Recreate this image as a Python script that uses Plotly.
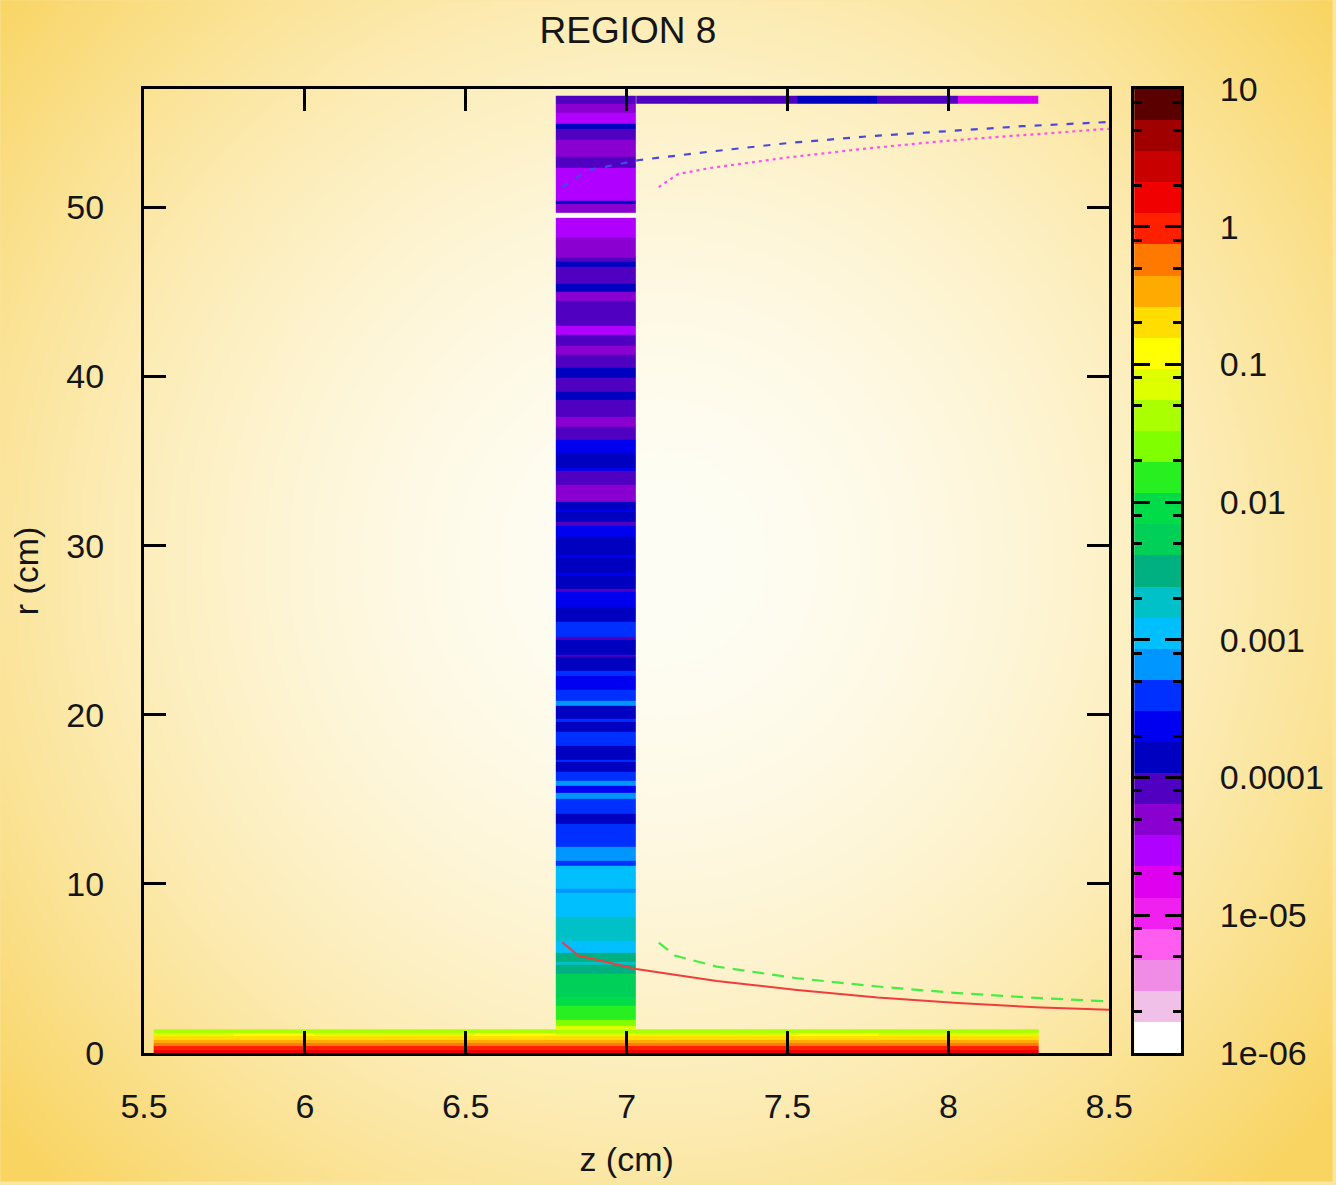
import base64, struct, zlib
import numpy as np
import plotly.graph_objects as go

# ---------------- data ----------------
# discrete palette, 31 bands spanning log10 value -6 .. 1 (bottom -> top)
palette = ["#FFFFFF", "#F0C0E8", "#F08CE6", "#FF5CF0", "#F020F0", "#E000F0", "#B000FF",
           "#8A00D0", "#5000C0", "#0000C0", "#0000F0", "#0030FF", "#0096FF", "#00BFFF",
           "#00C0C8", "#00B080", "#00D058", "#00DC48", "#28F020", "#80FF00", "#AAFF00",
           "#DDFF00", "#FFFF00", "#FFDD00", "#FFAA00", "#FF7800", "#FF2000", "#F00000",
           "#C80000", "#A00000", "#5A0000"]
cb_tickvals = [1e-6, 1e-5, 1e-4, 1e-3, 1e-2, 1e-1, 1, 10]
cb_ticktext = ["1e-06", "1e-05", "0.0001", "0.001", "0.01", "0.1", "1", "10"]
cb_minor = [2, 5, 8]

# z cell edges of the mesh (cm)
z_edges = [5.53, 5.78, 6.03, 6.28, 6.53, 6.78, 7.03, 7.28, 7.53, 7.78, 8.03, 8.28]

# bottom bar: r edges and values (rows bottom->top, one value per z cell)
bar_r_edges = [0.0, 0.2, 0.4, 0.6, 0.8, 1.0, 1.2, 1.4]
bar_vals = [
    [1.6, 1.6, 1.6, 1.6, 1.6, 1.6, 1.6, 1.6, 1.6, 1.6, 1.6],
    [0.95, 1.2, 0.95, 0.95, 1.2, 0.95, 0.95, 0.95, 1.2, 0.95, 0.95],
    [0.57, 0.57, 0.57, 0.57, 0.57, 0.57, 0.57, 0.57, 0.57, 0.57, 0.57],
    [0.3, 0.34, 0.3, 0.3, 0.34, 0.3, 0.3, 0.3, 0.34, 0.3, 0.3],
    [0.16, 0.2, 0.16, 0.16, 0.2, 0.16, 0.16, 0.16, 0.2, 0.16, 0.16],
    [0.09, 0.1, 0.09, 0.09, 0.1, 0.09, 0.09, 0.09, 0.1, 0.09, 0.09],
    [0.043, 0.05, 0.043, 0.043, 0.05, 0.043, 0.043, 0.043, 0.05, 0.043, 0.043],
]

# vertical column (z 6.78 .. 7.03): r edges and values
col_z_edges = [6.78, 7.03]
col_r_edges = [1.4, 1.6, 1.95, 2.8, 3.3, 4.7, 5.2, 5.4, 5.9, 6.66,
               8.08, 9.5, 9.7, 11.08, 11.38, 12.2, 13.56, 14.15, 15.03, 15.4,
               15.8, 16.1, 16.62, 17.2, 17.35, 18.15, 18.98, 19.6, 19.75, 20.51,
               20.81, 21.5, 22.3, 22.6, 23.4, 23.55, 24.46, 24.6, 25.5, 26.4,
               27.3, 27.45, 28.2, 28.4, 29.3, 29.45, 30.5, 31.2, 31.4, 32.0,
               32.15, 32.6, 33.6, 34.4, 34.6, 35.5, 36.25, 37.0, 37.6, 38.6,
               39.08, 39.91, 40.5, 41.3, 41.8, 42.44, 43.03, 44.5, 45.0, 45.5,
               46.5, 46.8, 47.04, 48.22, 49.39, 49.69, 50.22, 50.4, 52.34, 53.0,
               54.0, 54.64, 54.94, 55.6, 56.1, 56.6]
col_vals = [7.1e-2, 2.5e-2, 1.5e-2, 9e-3, 5.3e-3, 3.2e-3, 1.9e-3, 3.2e-3, 1.1e-3, 1.9e-3,
            1.1e-3, 6.7e-4, 1.1e-3, 4e-4, 6.7e-4, 4e-4, 1.4e-4, 4e-4, 6.7e-4, 2.4e-4,
            6.7e-4, 4e-4, 1.4e-4, 4e-4, 1.4e-4, 4e-4, 1.4e-4, 4e-4, 1.4e-4, 6.7e-4,
            4e-4, 2.4e-4, 4e-4, 1.4e-4, 8.3e-5, 1.4e-4, 8.3e-5, 4e-4, 1.4e-4, 2.4e-4,
            8.3e-5, 1.4e-4, 2.4e-4, 1.4e-4, 2.4e-4, 1.4e-4, 2.4e-4, 8.3e-5, 1.4e-4, 2.4e-4,
            1.4e-4, 4.9e-5, 8.3e-5, 2.4e-4, 1.4e-4, 2.4e-4, 8.3e-5, 4.9e-5, 8.3e-5, 1.4e-4,
            8.3e-5, 1.4e-4, 8.3e-5, 4.9e-5, 8.3e-5, 2.9e-5, 8.3e-5, 4.9e-5, 1.4e-4, 8.3e-5,
            1.4e-4, 8.3e-5, 4.9e-5, 2.9e-5, 1.3e-6, 4.9e-5, 1.4e-4, 2.9e-5, 8.3e-5, 4.9e-5,
            8.3e-5, 1.4e-4, 2.9e-5, 4.9e-5, 8.3e-5]

# top strip (r 56.1 .. 56.6)
strip_z_edges = [7.03, 7.28, 7.53, 7.78, 8.03, 8.28]
strip_r_edges = [56.1, 56.6]
strip_vals = [8.3e-5, 8.3e-5, 1.4e-4, 8.3e-5, 1.7e-5]

# curves
red_z = [6.80, 6.85, 7.03, 7.28, 7.53, 7.78, 8.03, 8.29, 8.5]
red_r = [6.55, 5.76, 4.97, 4.26, 3.73, 3.28, 2.95, 2.69, 2.56]
green_z = [7.10, 7.15, 7.28, 7.53, 7.78, 8.03, 8.29, 8.5]
green_r = [6.53, 5.76, 5.11, 4.42, 3.93, 3.54, 3.24, 3.05]
blue_z = [6.80, 6.88, 7.04, 7.26, 7.50, 7.75, 7.99, 8.23, 8.5]
blue_r = [51.2, 52.2, 52.8, 53.3, 53.8, 54.2, 54.5, 54.8, 55.05]
mag_z = [7.10, 7.16, 7.26, 7.50, 7.75, 7.99, 8.23, 8.5]
mag_r = [51.2, 51.97, 52.33, 52.95, 53.49, 53.93, 54.27, 54.65]

x_ticks = [5.5, 6, 6.5, 7, 7.5, 8, 8.5]
x_ticktext = ["5.5", "6", "6.5", "7", "7.5", "8", "8.5"]
y_ticks = [0, 10, 20, 30, 40, 50]

# ---------------- styling helpers ----------------
W, H = 1336, 1185
ML, MR, MT, MB = 144, 152, 89, 129
PW, PH = W - ML - MR, H - MT - MB
main_right = (1112 - ML) / PW
cb_left = (1137 - ML) / PW

LOGMIN, LOGMAX = -6.0, 1.0
nb = len(palette)
colorscale = []
for k, c in enumerate(palette):
    colorscale.append([k / nb, c])
    colorscale.append([(k + 1) / nb, c])

FONT = "Liberation Sans, Arial, sans-serif"
TXT = "#151515"


def lg(a):
    return np.log10(np.asarray(a, dtype=float)).tolist()


def background_uri():
    w, h = W // 4, H // 4
    yy, xx = np.mgrid[0:h, 0:w]
    X = (xx + 0.5) * 4
    Y = (yy + 0.5) * 4
    d = np.sqrt((X - 660) ** 2 + (Y - 560) ** 2) / 880.0
    t = np.clip(d, 0, 1) ** 1.8
    inner = np.array([255, 254, 245], float)
    outer = np.array([249, 212, 96], float)
    img = (inner[None, None, :] * (1 - t[..., None]) + outer[None, None, :] * t[..., None])
    img = np.clip(img, 0, 255).astype(np.uint8)
    raw = b"".join(b"\x00" + img[r].tobytes() for r in range(h))

    def chunk(tag, data):
        c = struct.pack(">I", len(data)) + tag + data
        return c + struct.pack(">I", zlib.crc32(tag + data) & 0xFFFFFFFF)

    png = (b"\x89PNG\r\n\x1a\n"
           + chunk(b"IHDR", struct.pack(">IIBBBBB", w, h, 8, 2, 0, 0, 0))
           + chunk(b"IDAT", zlib.compress(raw, 9))
           + chunk(b"IEND", b""))
    return "data:image/png;base64," + base64.b64encode(png).decode()


hm_common = dict(colorscale=colorscale, zmin=LOGMIN, zmax=LOGMAX, showscale=False,
                 hoverinfo="skip", zsmooth=False)

fig = go.Figure()
# bottom bar
fig.add_trace(go.Heatmap(x=z_edges, y=bar_r_edges, z=[lg(r) for r in bar_vals], **hm_common))
# column
fig.add_trace(go.Heatmap(x=col_z_edges, y=col_r_edges, z=[[v] for v in lg(col_vals)], **hm_common))
# top strip
fig.add_trace(go.Heatmap(x=strip_z_edges, y=strip_r_edges, z=[lg(strip_vals)], **hm_common))

# curves
fig.add_trace(go.Scatter(x=red_z, y=red_r, mode="lines", hoverinfo="skip",
                         line=dict(color="#F03C3C", width=2)))
fig.add_trace(go.Scatter(x=green_z, y=green_r, mode="lines", hoverinfo="skip",
                         line=dict(color="#44EE44", width=2.2, dash="12px,8px")))
fig.add_trace(go.Scatter(x=blue_z, y=blue_r, mode="lines", hoverinfo="skip",
                         line=dict(color="#4848E0", width=2.2, dash="7px,9px")))
fig.add_trace(go.Scatter(x=mag_z, y=mag_r, mode="lines", hoverinfo="skip",
                         line=dict(color="#FF50F0", width=2.2, dash="3px,4px")))

# colour bar drawn as its own little axis
cb_edges = np.linspace(LOGMIN, LOGMAX, nb + 1)
cb_centers = (cb_edges[:-1] + cb_edges[1:]) / 2
fig.add_trace(go.Heatmap(x=[0, 1], y=cb_edges.tolist(), z=[[v] for v in cb_centers],
                         xaxis="x2", yaxis="y2", **hm_common))

minor_vals = []
for e in range(-6, 1):
    for m in cb_minor:
        minor_vals.append(e + np.log10(m))

axis_font = dict(family=FONT, size=34, color=TXT)

fig.update_layout(
    width=W, height=H,
    margin=dict(l=ML, r=MR, t=MT, b=MB, pad=0),
    paper_bgcolor="#FBE6A0",
    plot_bgcolor="rgba(0,0,0,0)",
    showlegend=False,
    font=axis_font,
    title=dict(text="REGION 8", x=(ML + main_right * PW / 2) / W, xref="container",
               xanchor="center", y=1 - 30 / H, yref="container", yanchor="middle",
               font=dict(family=FONT, size=37, color=TXT)),
    xaxis=dict(domain=[0, main_right], range=[5.5, 8.5], tickmode="array",
               tickvals=x_ticks, ticktext=x_ticktext, ticks="inside", ticklen=22,
               tickwidth=2.5, tickcolor="black", showline=True, linewidth=3,
               linecolor="black", mirror="ticks", showgrid=False, zeroline=False,
               tickfont=axis_font, ticklabelstandoff=21,
               title=dict(text="z (cm)", font=axis_font, standoff=24)),
    yaxis=dict(domain=[0, 1], range=[0, 57], tickmode="array", tickvals=y_ticks,
               ticks="inside", ticklen=22, tickwidth=2.5, tickcolor="black",
               showline=True, linewidth=3, linecolor="black", mirror="ticks",
               showgrid=False, zeroline=False, tickfont=axis_font, ticklabelstandoff=30,
               title=dict(text="r (cm)", font=axis_font, standoff=18)),
    xaxis2=dict(domain=[cb_left, 1], range=[0, 1], anchor="y2", showticklabels=False,
                ticks="", showline=True, linewidth=3, linecolor="black", mirror=True,
                showgrid=False, zeroline=False),
    yaxis2=dict(domain=[0, 1], range=[LOGMIN, LOGMAX], anchor="x2", side="right",
                tickmode="array", tickvals=lg(cb_tickvals), ticktext=cb_ticktext,
                ticks="inside", ticklen=16, tickwidth=2.5, tickcolor="black",
                showline=True, linewidth=3, linecolor="black", mirror="ticks",
                showgrid=False, zeroline=False, tickfont=axis_font, ticklabelstandoff=29,
                minor=dict(tickmode="array", tickvals=minor_vals, ticks="inside",
                           ticklen=8, tickwidth=2.5, tickcolor="black", showgrid=False)),
    images=[dict(source=background_uri(), xref="paper", yref="paper",
                 x=-ML / PW, y=1 + MT / PH, sizex=W / PW, sizey=H / PH,
                 xanchor="left", yanchor="top", sizing="stretch", layer="below")],
)

fig.write_html("out.html")
